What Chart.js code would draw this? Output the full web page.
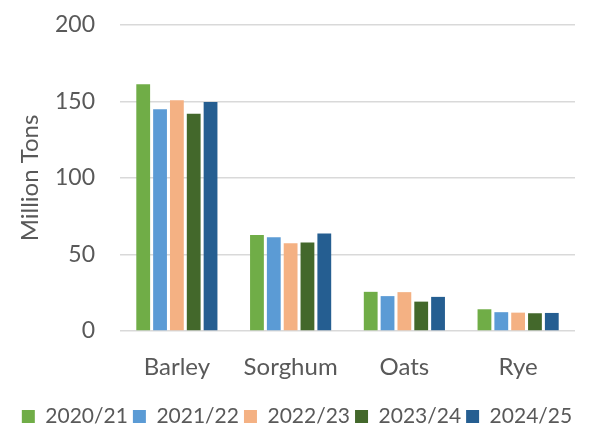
<!DOCTYPE html>
<html>
<head>
<meta charset="utf-8">
<script src="https://cdn.jsdelivr.net/npm/chart.js@4.4.1/dist/chart.umd.min.js"></script>
<style>
html,body{margin:0;padding:0;background:#fff;}
#wrap{width:604px;height:438px;position:relative;}
</style>
</head>
<body>
<div id="wrap"><canvas id="c" width="604" height="438"></canvas></div>
<script>
const categories = ["Barley", "Sorghum", "Oats", "Rye"];
const seriesNames = ["2020/21", "2021/22", "2022/23", "2023/24", "2024/25"];
const v2020 = [161.3, 62.8, 25.6, 14.2];
const v2021 = [144.9, 61.2, 22.8, 12.3];
const v2022 = [150.8, 57.3, 25.4, 12.0];
const v2023 = [142.0, 57.8, 19.2, 11.6];
const v2024 = [149.7, 63.7, 22.3, 11.8];
const yTicks = [0, 50, 100, 150, 200];
const colors = ["#70AD47", "#5B9BD5", "#F4B183", "#43682B", "#255E91"];

const values = [v2020, v2021, v2022, v2023, v2024];
const FONT = "Lato";
const TXT = "#595959";

new Chart(document.getElementById('c'), {
  type: 'bar',
  data: {
    labels: categories,
    datasets: seriesNames.map((n, i) => ({
      label: n,
      data: values[i],
      backgroundColor: colors[i],
      borderWidth: 0,
      barPercentage: 0.82,
      categoryPercentage: 0.74
    }))
  },
  options: {
    responsive: false,
    animation: false,
    devicePixelRatio: 1,
    layout: { autoPadding: false, padding: { left: 0, right: 10, top: 25, bottom: 1 } },
    plugins: {
      legend: {
        position: 'bottom',
        labels: {
          boxWidth: 13, boxHeight: 13,
          color: TXT,
          font: { family: FONT, size: 21 },
          padding: 5
        }
      },
      tooltip: { enabled: false }
    },
    scales: {
      x: {
        grid: { display: false, drawTicks: false },
        border: { display: false },
        ticks: { color: TXT, font: { family: FONT, size: 24 }, padding: 22 },
        afterFit: (s) => { s.height = 70; s.paddingTop = 0; s.paddingBottom = 0; }
      },
      y: {
        min: 0, max: 200,
        afterBuildTicks: (s) => { s.ticks = yTicks.map(v => ({ value: v })); },
        grid: { color: "#D9D9D9", lineWidth: 1.5, drawTicks: false },
        border: { display: false },
        ticks: { color: TXT, font: { family: FONT, size: 23 }, padding: 25 },
        title: { display: true, text: "Million Tons", color: TXT, font: { family: FONT, size: 24 }, padding: { top: 16, bottom: 4 } },
        afterFit: (s) => { s.width = 120; s.paddingTop = 0; s.paddingBottom = 0; }
      },
      yR: {
        position: 'right',
        min: 0, max: 1,
        grid: { display: false, drawTicks: false },
        border: { display: false },
        ticks: { display: false },
        afterFit: (s) => { s.width = 19; s.paddingTop = 0; s.paddingBottom = 0; }
      }
    }
  }
});
</script>
</body>
</html>
